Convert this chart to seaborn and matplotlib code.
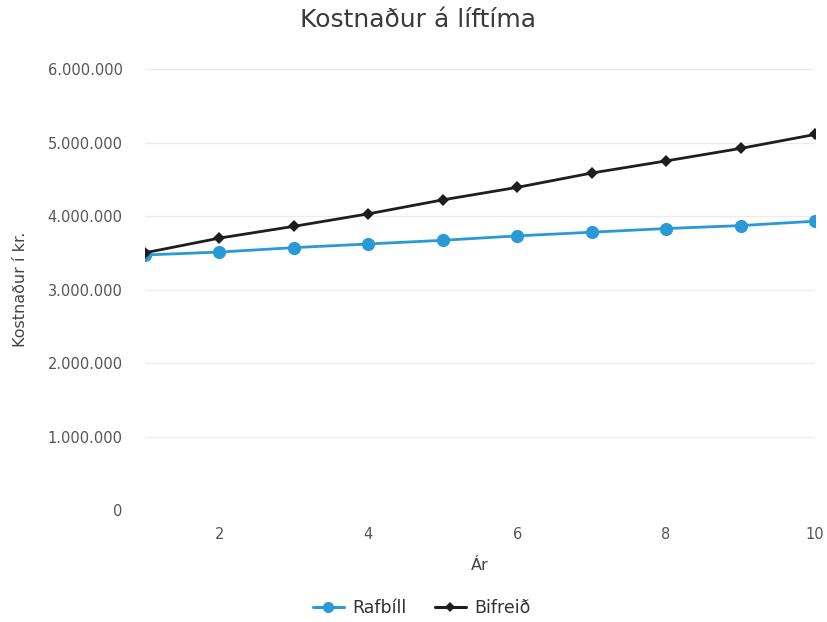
import matplotlib
matplotlib.use("Agg")
import matplotlib.pyplot as plt
import matplotlib.ticker as mticker
from matplotlib.lines import Line2D
import seaborn as sns
import pandas as pd

years = [1, 2, 3, 4, 5, 6, 7, 8, 9, 10]
rafbill = [3470000, 3510000, 3570000, 3620000, 3670000, 3730000, 3780000, 3830000, 3870000, 3930000]
bifreid = [3500000, 3700000, 3860000, 4030000, 4220000, 4390000, 4585000, 4750000, 4920000, 5110000]
series_names = ["Rafbíll", "Bifreið"]
y_ticks = [0, 1000000, 2000000, 3000000, 4000000, 5000000, 6000000]
x_ticks = [2, 4, 6, 8, 10]

df = pd.DataFrame({
    "Ár": years * 2,
    "Kostnaður": rafbill + bifreid,
    "Tegund": [series_names[0]] * len(years) + [series_names[1]] * len(years),
})

sns.set_theme(style="white")
plt.rcParams["font.family"] = ["DejaVu Sans"]

fig = plt.figure(figsize=(8.27, 6.22), dpi=100)
ax = fig.add_axes([0.1753, 0.180, 0.8102, 0.709])

palette = {series_names[0]: "#2a9ad6", series_names[1]: "#1e1e1e"}
markers = {series_names[0]: "o", series_names[1]: "D"}
sns.lineplot(data=df, x="Ár", y="Kostnaður", hue="Tegund", style="Tegund",
             palette=palette, markers=markers, dashes=False, ax=ax,
             linewidth=2.0, markeredgewidth=0, legend=False)
for line, name in zip(ax.lines, series_names):
    line.set_markersize(9.5 if name == series_names[0] else 6)

ax.set_xlim(1, 10)
ax.set_ylim(0, 6000000)
ax.set_yticks(y_ticks)
ax.set_xticks(x_ticks)
ax.yaxis.set_major_formatter(mticker.FuncFormatter(lambda v, p: f"{int(v):,}".replace(",", ".")))
ax.grid(axis="y", color="#ececec", linewidth=1)
ax.grid(axis="x", visible=False)
for s in ax.spines.values():
    s.set_visible(False)
ax.tick_params(axis="both", length=0, labelsize=10.5, labelcolor="#555555")
ax.tick_params(axis="y", pad=16)
ax.tick_params(axis="x", pad=12)

ax.set_xlabel("Ár", fontsize=11.5, color="#444444", labelpad=12)
ax.set_ylabel("Kostnaður í kr.", fontsize=11.5, color="#444444", labelpad=14)
fig.text(0.506, 0.968, "Kostnaður á líftíma", ha="center", va="center",
         fontsize=18, color="#3a3a3a")

handles = [
    Line2D([], [], color=palette[series_names[0]], marker="o", markersize=8, linewidth=2.2, markeredgewidth=0),
    Line2D([], [], color=palette[series_names[1]], marker="D", markersize=5.5, linewidth=2.2, markeredgewidth=0),
]
fig.legend(handles, series_names, loc="center", bbox_to_anchor=(0.51, 0.022),
           ncol=2, frameon=False, fontsize=12.5, handlelength=1.8, columnspacing=1.6,
           handletextpad=0.5, labelcolor="#333333")

fig.savefig("out.png", dpi=100)
